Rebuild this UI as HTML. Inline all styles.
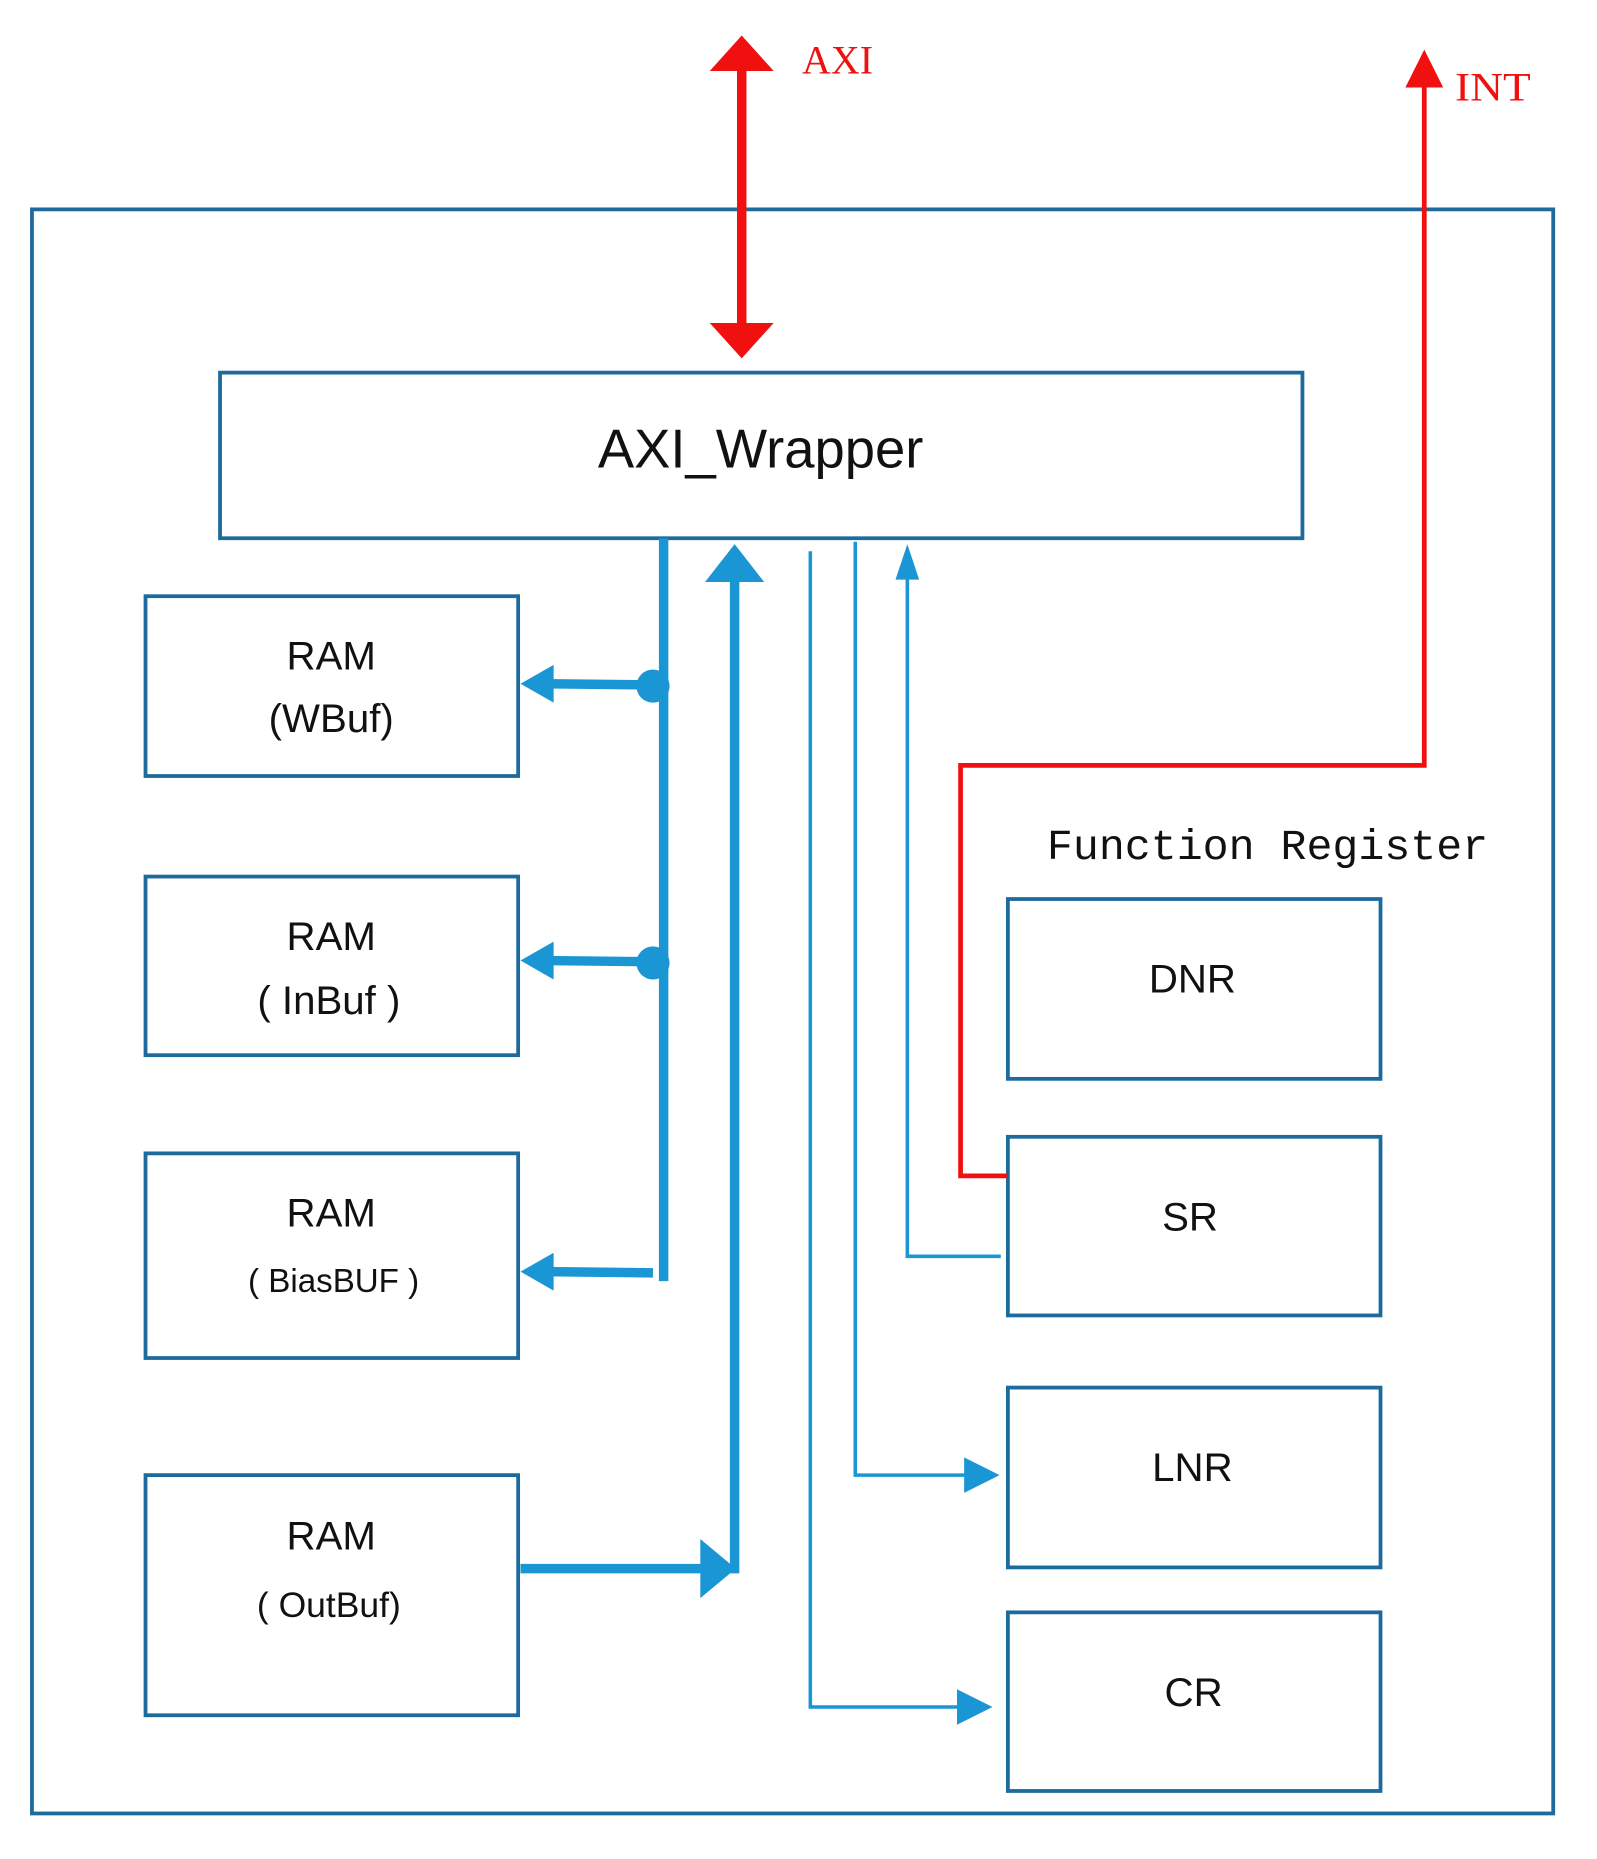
<!DOCTYPE html>
<html><head><meta charset="utf-8"><style>
html,body{margin:0;padding:0;background:#fff;}
svg{display:block;}
.b{fill:none;stroke:#1d6a9c;stroke-width:3.2;}
.t{font-family:"Liberation Sans",sans-serif;fill:#111;text-anchor:middle;}
</style></head><body>
<svg width="1597" height="1859" viewBox="0 0 1350 1571.5" xmlns="http://www.w3.org/2000/svg">
<rect x="27" y="177" width="1286" height="1356" class="b"/>
<rect x="186" y="315" width="915" height="140" class="b"/>
<rect x="123" y="504" width="315" height="152" class="b"/>
<rect x="123" y="741" width="315" height="151" class="b"/>
<rect x="123" y="975" width="315" height="173" class="b"/>
<rect x="123" y="1247" width="315" height="203" class="b"/>
<rect x="852" y="760" width="315" height="152" class="b"/>
<rect x="852" y="961" width="315" height="151" class="b"/>
<rect x="852" y="1173" width="315" height="152" class="b"/>
<rect x="852" y="1363" width="315" height="151" class="b"/>

<!-- red AXI -->
<line x1="627" y1="55" x2="627" y2="278" stroke="#f01010" stroke-width="8"/>
<polygon points="627,30 600,60 654,60" fill="#f01010"/>
<polygon points="627,303 600,273 654,273" fill="#f01010"/>
<text x="678" y="62" font-family="Liberation Serif,serif" font-size="34" fill="#f01010" textLength="60" lengthAdjust="spacingAndGlyphs">AXI</text>
<!-- INT -->
<polyline points="1204,68 1204,647 812,647 812,994 852,994" fill="none" stroke="#f01010" stroke-width="4"/>
<polygon points="1204,42 1188,74 1220,74" fill="#f01010"/>
<text x="1230" y="85" font-family="Liberation Serif,serif" font-size="34" fill="#f01010" textLength="64" lengthAdjust="spacingAndGlyphs">INT</text>

<g stroke="#1a96d4" fill="none">
<line x1="561" y1="455" x2="561" y2="1083" stroke-width="8"/>
<line x1="552" y1="579" x2="462" y2="578" stroke-width="8"/>
<line x1="552" y1="813" x2="462" y2="812" stroke-width="8"/>
<line x1="552" y1="1076" x2="462" y2="1075" stroke-width="8"/>
<line x1="621" y1="485" x2="621" y2="1330" stroke-width="8"/>
<line x1="440" y1="1326" x2="595" y2="1326" stroke-width="8"/>
<polyline points="685,466 685,1443 815,1443" stroke-width="3"/>
<polyline points="723,458 723,1247 820,1247" stroke-width="3"/>
<polyline points="846,1062 767,1062 767,480" stroke-width="3"/>
</g>
<g fill="#1a96d4">
<circle cx="552" cy="580" r="14"/>
<circle cx="552" cy="814" r="14"/>
<polygon points="440,578 468,562 468,594"/>
<polygon points="440,812 468,796 468,828"/>
<polygon points="440,1075 468,1059 468,1091"/>
<polygon points="621,460 596,492 646,492"/>
<polygon points="622,1326 592,1301 592,1351"/>
<polygon points="767,460 757,490 777,490"/>
<polygon points="845,1247 815,1232 815,1262"/>
<polygon points="839,1443 809,1428 809,1458"/>
</g>

<text x="643" y="395" class="t" font-size="46">AXI_Wrapper</text>
<text x="280" y="566" class="t" font-size="34">RAM</text>
<text x="280" y="619" class="t" font-size="34">(WBuf)</text>
<text x="280" y="803" class="t" font-size="34">RAM</text>
<text x="278" y="857" class="t" font-size="34">( InBuf )</text>
<text x="280" y="1037" class="t" font-size="34">RAM</text>
<text x="282" y="1092" class="t" font-size="28">( BiasBUF )</text>
<text x="280" y="1310" class="t" font-size="34">RAM</text>
<text x="278" y="1367" class="t" font-size="30">( OutBuf)</text>
<text x="885" y="726" font-family="Liberation Mono,monospace" font-size="36" fill="#111" textLength="373" lengthAdjust="spacingAndGlyphs">Function Register</text>
<text x="1008" y="839" class="t" font-size="34">DNR</text>
<text x="1006" y="1040" class="t" font-size="34">SR</text>
<text x="1008" y="1252" class="t" font-size="34">LNR</text>
<text x="1009" y="1442" class="t" font-size="34">CR</text>
</svg>
</body></html>
